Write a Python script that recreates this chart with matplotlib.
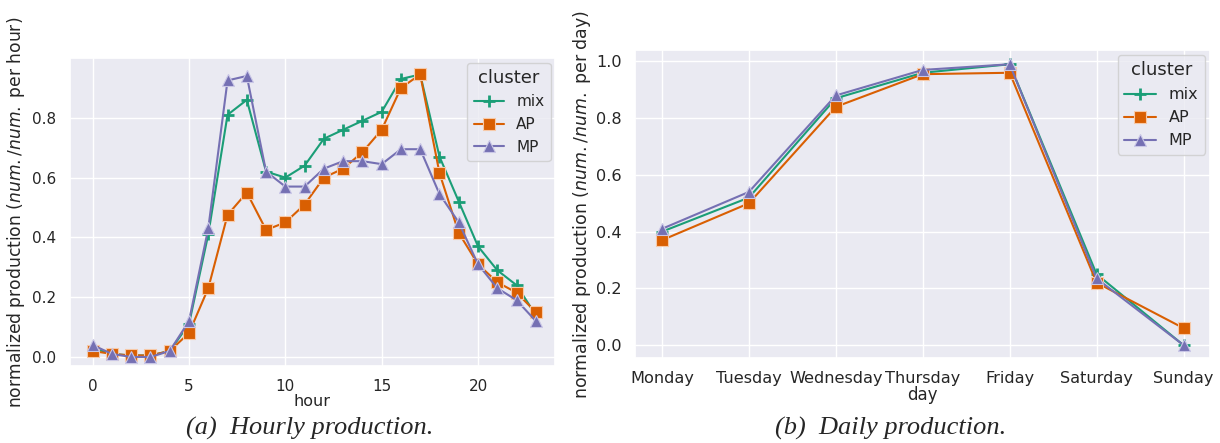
import matplotlib
matplotlib.use("Agg")
import matplotlib.pyplot as plt
import seaborn as sns

sns.set_theme(style="darkgrid")
plt.rcParams['font.family'] = ['DejaVu Sans']

# Hourly data
hours = list(range(24))
hourly_mix = [0.03, 0.01, 0.005, 0.005, 0.02, 0.11, 0.41, 0.81, 0.86, 0.62, 0.60, 0.64,
              0.73, 0.76, 0.79, 0.82, 0.93, 0.945, 0.67, 0.52, 0.37, 0.29, 0.24, 0.14]
hourly_ap = [0.02, 0.01, 0.005, 0.005, 0.02, 0.08, 0.23, 0.475, 0.55, 0.425, 0.45, 0.51,
             0.60, 0.63, 0.685, 0.76, 0.90, 0.945, 0.615, 0.415, 0.31, 0.25, 0.215, 0.15]
hourly_mp = [0.04, 0.01, 0.0, 0.0, 0.02, 0.12, 0.43, 0.925, 0.94, 0.62, 0.57, 0.57,
             0.63, 0.655, 0.655, 0.645, 0.695, 0.695, 0.545, 0.45, 0.31, 0.23, 0.19, 0.12]

# Daily data
days = ['Monday', 'Tuesday', 'Wednesday', 'Thursday', 'Friday', 'Saturday', 'Sunday']
daily_mix = [0.40, 0.52, 0.87, 0.96, 0.99, 0.25, 0.0]
daily_ap = [0.37, 0.50, 0.84, 0.955, 0.96, 0.22, 0.06]
daily_mp = [0.41, 0.54, 0.88, 0.97, 0.99, 0.235, 0.0]

clusters = ['mix', 'AP', 'MP']
colors = ['#1b9e77', '#d95f02', '#7570b3']
markers = ['+', 's', '^']
edge_colors = [None, '#f7c9a8', '#c9c6e6']

fig = plt.figure(figsize=(12.2, 4.43), dpi=100)
ax1 = fig.add_axes([0.057, 0.174, 0.398, 0.695])
ax2 = fig.add_axes([0.5205, 0.192, 0.471, 0.695])


def draw(ax, x, series, msize):
    for name, ys, c, m, ec in zip(clusters, series, colors, markers, edge_colors):
        if m == '+':
            ax.plot(x, ys, color=c, marker=m, markersize=msize + 1, markeredgewidth=2,
                    linewidth=1.5, label=name)
        else:
            ax.plot(x, ys, color=c, marker=m, markersize=msize, markeredgecolor=ec,
                    markeredgewidth=0.8, linewidth=1.5, label=name)


# (a) hourly
draw(ax1, hours, [hourly_mix, hourly_ap, hourly_mp], 8)
ax1.set_xlim(-1.2, 24)
ax1.set_ylim(-0.03, 1.0)
ax1.set_xticks([0, 5, 10, 15, 20])
ax1.set_yticks([0.0, 0.2, 0.4, 0.6, 0.8])
ax1.tick_params(labelsize=11)
ax1.set_xlabel('hour', fontsize=11.5, labelpad=0)
ax1.set_ylabel(r'normalized production ($\mathit{num.}$/$\mathit{num.}$ per hour)', fontsize=12.3)
ax1.legend(title='cluster', loc='upper right', fontsize=11, title_fontsize=13,
           borderaxespad=0.3)

# (b) daily
xd = list(range(len(days)))
draw(ax2, xd, [daily_mix, daily_ap, daily_mp], 8)
ax2.set_xticks(xd)
ax2.set_xticklabels(days)
ax2.set_xlim(-0.31, 6.3)
ax2.set_ylim(-0.045, 1.04)
ax2.set_yticks([0.0, 0.2, 0.4, 0.6, 0.8, 1.0])
ax2.tick_params(labelsize=11.6)
ax2.set_xlabel('day', fontsize=12, labelpad=0)
ax2.set_ylabel(r'normalized production ($\mathit{num.}$/$\mathit{num.}$ per day)', fontsize=12.5,
               labelpad=2)
ax2.legend(title='cluster', loc='upper right', fontsize=11.5, title_fontsize=13,
           borderaxespad=0.3)

fig.text(0.254, 0.033, '(a)  Hourly production.', fontsize=19, style='italic',
         family='Liberation Serif', ha='center', va='center')
fig.text(0.73, 0.033, '(b)  Daily production.', fontsize=19, style='italic',
         family='Liberation Serif', ha='center', va='center')

fig.savefig('out.png', dpi=100)
